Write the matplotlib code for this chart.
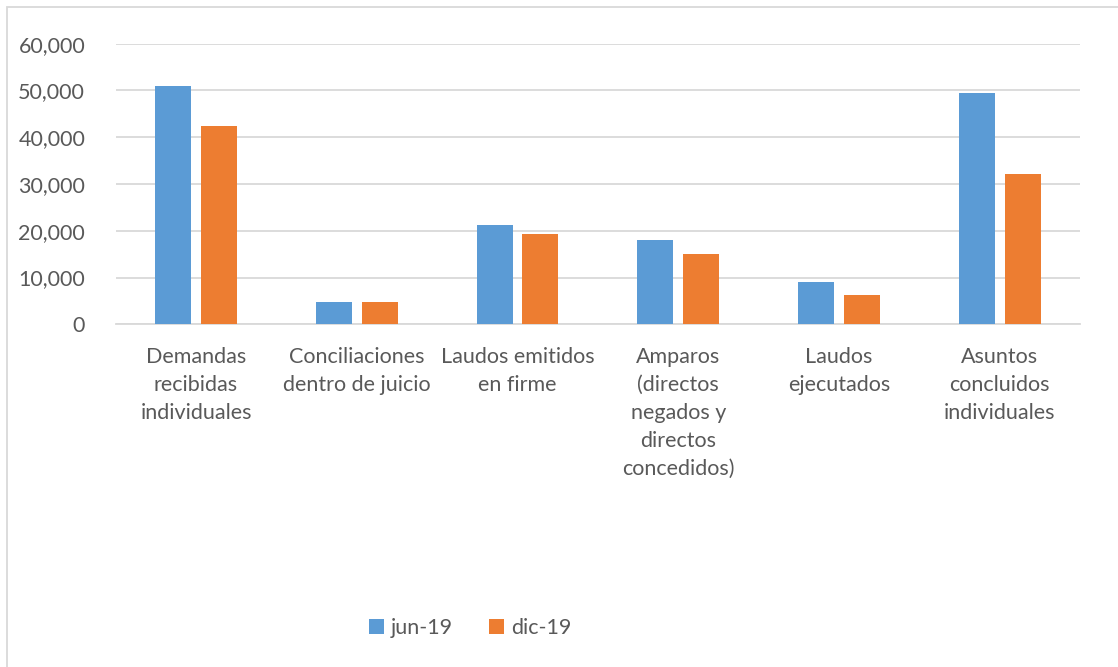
import matplotlib.pyplot as plt
import numpy as np
from matplotlib.patches import Rectangle

categories = [
    "Demandas\nrecibidas\nindividuales",
    "Conciliaciones\ndentro de juicio",
    "Laudos emitidos\nen firme",
    "Amparos\n(directos\nnegados y\ndirectos\nconcedidos)",
    "Laudos\nejecutados",
    "Asuntos\nconcluidos\nindividuales",
]
jun_19 = [50900, 4850, 21200, 17950, 9050, 49500]
dic_19 = [42350, 4700, 19300, 15050, 6250, 32150]
yticks = [0, 10000, 20000, 30000, 40000, 50000, 60000]

blue = "#5b9bd5"
orange = "#ed7d31"
text_col = "#595959"
grid_col = "#d9d9d9"

plt.rcParams['font.family'] = ['Lato', 'DejaVu Sans']

fig = plt.figure(figsize=(11.18, 6.67), dpi=100)
ax = fig.add_axes([115.7 / 1118, 1 - 324.3 / 667, (1080 - 115.7) / 1118, (324.3 - 43.7) / 667])

x = np.arange(len(categories))
w = 0.224
off = 0.143
ax.bar(x - off, jun_19, w, color=blue, label="jun-19", zorder=3)
ax.bar(x + off, dic_19, w, color=orange, label="dic-19", zorder=3)

ax.set_xlim(-0.5, len(categories) - 0.5)
ax.set_ylim(0, 60000)
ax.set_yticks(yticks)
ax.set_yticklabels([f"{v:,}" for v in yticks], fontsize=15.5, color=text_col)
ax.yaxis.grid(True, color=grid_col, linewidth=1.3, zorder=0)
ax.set_axisbelow(True)
for s in ["top", "right", "left"]:
    ax.spines[s].set_visible(False)
ax.spines["bottom"].set_color(grid_col)
ax.spines["bottom"].set_linewidth(1.3)
ax.tick_params(axis="y", length=0, pad=22)
ax.tick_params(axis="x", length=0, pad=16)
ax.set_xticks(x)
ax.set_xticklabels(categories, fontsize=15.5, color=text_col, linespacing=1.5)

ax.legend(loc="center", bbox_to_anchor=(470 / 1118, 1 - 628 / 667),
          bbox_transform=fig.transFigure, ncol=2, frameon=False,
          fontsize=15.5, handlelength=0.7, handleheight=0.7, handletextpad=0.3,
          columnspacing=1.7, labelcolor=text_col)

fig.patches.append(Rectangle((7 / 1118, -0.01), 1.2, 1 - 7 / 667 + 0.01,
                             transform=fig.transFigure, fill=False,
                             edgecolor=grid_col, linewidth=1.3))

fig.savefig("out.png", dpi=100)
